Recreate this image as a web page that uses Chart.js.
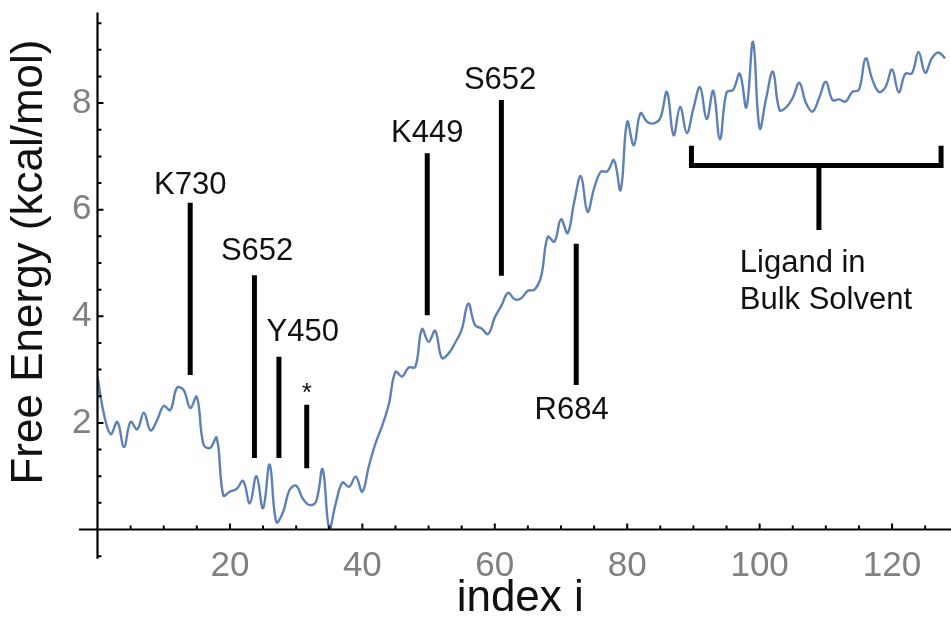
<!DOCTYPE html>
<html>
<head>
<meta charset="utf-8">
<script src="https://cdn.jsdelivr.net/npm/chart.js@4.4.1/dist/chart.umd.min.js"></script>
<style>
  html, body { margin: 0; padding: 0; background: #ffffff; }
  #wrap { width: 951px; height: 622px; }
</style>
</head>
<body>
<div id="wrap"><canvas id="c" width="951" height="622"></canvas></div>
<script>
// ---- data ----
const energy = [
  2.86, 2.15, 1.79, 2.02, 1.55, 2.02, 1.88, 2.19, 1.86, 2.05,
  2.32, 2.24, 2.66, 2.62, 2.28, 2.49, 1.60, 1.53, 1.72, 0.64,
  0.71, 0.76, 0.91, 0.49, 1.00, 0.40, 1.22, 0.14, 0.32, 0.74,
  0.82, 0.58, 0.46, 0.52, 1.13, 0.02, 0.50, 0.88, 0.80, 0.99,
  0.71, 1.20, 1.62, 1.95, 2.35, 2.96, 2.87, 3.04, 3.05, 3.76,
  3.52, 3.73, 3.22, 3.30, 3.50, 3.75, 4.24, 3.84, 3.77, 3.67,
  3.98, 4.20, 4.44, 4.32, 4.34, 4.48, 4.50, 4.75, 5.49, 5.40,
  5.82, 5.56, 6.15, 6.63, 5.96, 6.40, 6.71, 6.72, 6.93, 6.37,
  7.65, 7.21, 7.81, 7.65, 7.62, 7.72, 8.21, 7.40, 7.93, 7.44,
  7.90, 8.30, 7.70, 8.23, 7.32, 8.20, 8.25, 8.55, 7.92, 9.15,
  7.53, 8.10, 8.59, 7.87, 7.92, 8.10, 8.38, 8.00, 7.84, 8.10,
  8.40, 8.06, 8.07, 8.03, 8.21, 8.25, 8.84, 8.45, 8.21, 8.30,
  8.63, 8.20, 8.55, 8.56, 8.96, 8.57, 8.84, 8.95, 8.84
];
const xTickLabels = [20, 40, 60, 80, 100, 120];
const yTickLabels = [2, 4, 6, 8];

// residue markers (vertical bars)
const markerLabels = ['K730', 'S652', 'Y450', '*', 'K449', 'S652', 'R684'];
const markerX      = [14.0, 23.7, 27.4, 31.6, 49.8, 61.0, 72.3];
const markerTop    = [6.13, 4.77, 3.24, 2.34, 7.06, 8.06, 5.36];
const markerBottom = [2.90, 1.34, 1.34, 1.15, 4.02, 4.76, 2.71];
const markerLabelX = [14.0, 24.1, 31.0, 31.6, 49.8, 60.8, 71.6];
const markerLabelY = [6.46, 5.22, 3.69, 2.64, 7.44, 8.43, 2.24];

// bulk-solvent bracket
const bracketLeft = 89.7, bracketRight = 127.4;
const bracketLevel = 6.83, bracketTipTop = 7.20;
const bracketStemX = 108.95, bracketStemBottom = 5.62;
const bracketText = ['Ligand in', 'Bulk Solvent'];
const bracketTextX = 97.0;
const bracketTextY = [4.99, 4.30];

const xAxisRange = [-2.8, 128.9];
const yAxisRange = [-0.55, 9.7];

// ---- datasets ----
const FONT = "'Liberation Sans', Arial, Helvetica, sans-serif";
const datasets = [];
datasets.push({
  data: energy.map((v, i) => ({x: i, y: v})),
  borderColor: '#5E81B5',
  borderWidth: 2.4,
  pointRadius: 0,
  tension: 0.4,
  fill: false,
  order: 0
});
markerX.forEach((mx, k) => {
  datasets.push({
    data: [{x: mx, y: markerTop[k]}, {x: mx, y: markerBottom[k]}],
    borderColor: '#000000', borderWidth: 5, pointRadius: 0, tension: 0,
    borderCapStyle: 'butt', fill: false, order: 1
  });
});
datasets.push({
  data: [{x: bracketLeft, y: bracketTipTop}, {x: bracketLeft, y: bracketLevel},
         {x: bracketRight, y: bracketLevel}, {x: bracketRight, y: bracketTipTop}],
  borderColor: '#000000', borderWidth: 5, pointRadius: 0, tension: 0,
  borderJoinStyle: 'miter', fill: false, order: 1
});
datasets.push({
  data: [{x: bracketStemX, y: bracketLevel}, {x: bracketStemX, y: bracketStemBottom}],
  borderColor: '#000000', borderWidth: 5, pointRadius: 0, tension: 0, fill: false, order: 1
});

// ---- plugin: axes through origin, tick marks, annotation text, titles ----
const decor = {
  id: 'decor',
  afterDatasetsDraw(chart) {
    const {ctx, scales: {x, y}, chartArea} = chart;
    ctx.save();
    ctx.strokeStyle = '#000';
    ctx.lineWidth = 2.2;
    const x0 = x.getPixelForValue(0), y0 = y.getPixelForValue(0);
    ctx.beginPath();
    ctx.moveTo(x.getPixelForValue(xAxisRange[0]), y0);
    ctx.lineTo(x.getPixelForValue(xAxisRange[1]), y0);
    ctx.moveTo(x0, y.getPixelForValue(yAxisRange[0]));
    ctx.lineTo(x0, y.getPixelForValue(yAxisRange[1]));
    ctx.stroke();
    // ticks
    ctx.lineWidth = 2;
    ctx.beginPath();
    for (let v = 5; v <= 125; v += 5) {
      const px = x.getPixelForValue(v);
      const len = (v % 20 === 0) ? 6 : 4;
      ctx.moveTo(px, y0); ctx.lineTo(px, y0 - len);
    }
    for (let k = -1; k <= 19; k++) {
      if (k === 0) continue;
      const v = k * 0.5;
      const py = y.getPixelForValue(v);
      const len = (k % 4 === 0) ? 6 : 4;
      ctx.moveTo(x0, py); ctx.lineTo(x0 + len, py);
    }
    ctx.stroke();
    // marker labels
    ctx.fillStyle = '#111';
    ctx.textAlign = 'center';
    ctx.textBaseline = 'middle';
    markerLabels.forEach((t, k) => {
      ctx.font = (t === '*' ? '26px ' : '31px ') + FONT;
      ctx.fillText(t, x.getPixelForValue(markerLabelX[k]), y.getPixelForValue(markerLabelY[k]) + (t === '*' ? 5 : 0));
    });
    ctx.textAlign = 'left';
    ctx.font = '31px ' + FONT;
    bracketText.forEach((t, k) => {
      ctx.fillText(t, x.getPixelForValue(bracketTextX), y.getPixelForValue(bracketTextY[k]));
    });
    // axis titles
    ctx.fillStyle = '#111';
    ctx.font = '44px ' + FONT;
    ctx.textAlign = 'center';
    ctx.fillText('index i', (chartArea.left + chartArea.right) / 2 - 4, 599);
    ctx.save();
    ctx.translate(30, 262);
    ctx.rotate(-Math.PI / 2);
    ctx.fillText('Free Energy (kcal/mol)', 0, 0);
    ctx.restore();
    ctx.restore();
  }
};

new Chart(document.getElementById('c'), {
  type: 'line',
  data: { datasets },
  options: {
    responsive: false,
    animation: false,
    devicePixelRatio: 1,
    layout: { padding: { top: 12.5, right: 0, left: 0, bottom: 0 } },
    plugins: { legend: { display: false }, tooltip: { enabled: false } },
    scales: {
      x: {
        type: 'linear', min: 0, max: xAxisRange[1],
        grid: { display: false, drawTicks: false },
        border: { display: false },
        afterBuildTicks: ax => { ax.ticks = xTickLabels.map(v => ({ value: v })); },
        afterFit: ax => { ax.height = 76.5; ax.paddingLeft = 0; ax.paddingRight = 0; },
        ticks: { font: { family: FONT, size: 35 }, color: '#808080', padding: 0, maxRotation: 0, autoSkip: false }
      },
      y: {
        type: 'linear', min: -0.3, max: yAxisRange[1],
        grid: { display: false, drawTicks: false },
        border: { display: false },
        afterBuildTicks: ax => { ax.ticks = yTickLabels.map(v => ({ value: v })); },
        afterFit: ax => { ax.width = 97.5; ax.paddingTop = 0; ax.paddingBottom = 0; },
        ticks: { font: { family: FONT, size: 35 }, color: '#808080', padding: 6, autoSkip: false }
      }
    }
  },
  plugins: [decor]
});
</script>
</body>
</html>
